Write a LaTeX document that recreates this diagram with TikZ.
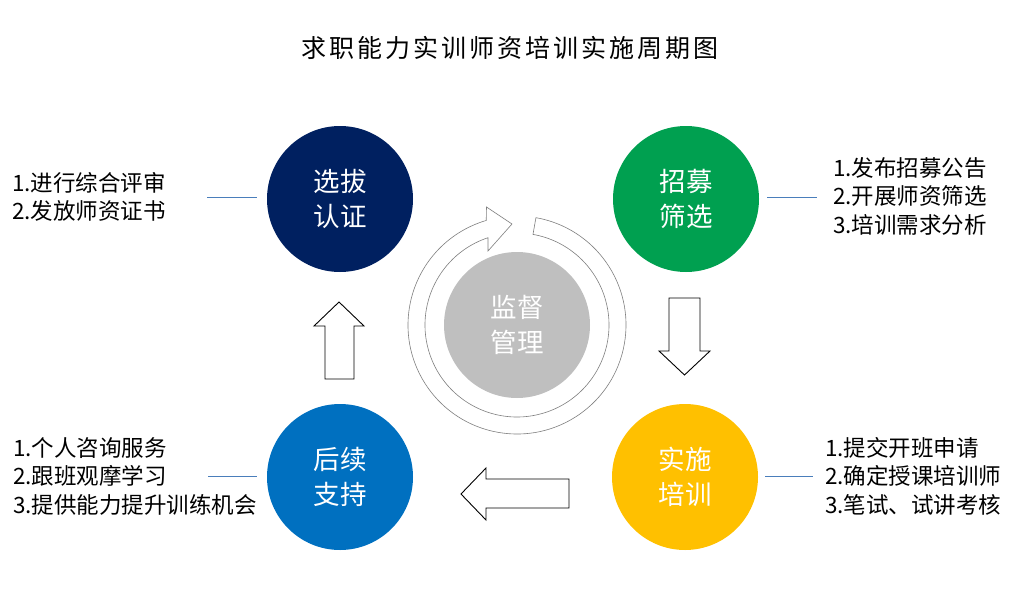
\documentclass[tikz,border=0pt]{standalone}
\usepackage{fontspec}
\newfontfamily\cjk{Noto Sans CJK SC}
\definecolor{navy}{HTML}{002060}
\definecolor{grn}{HTML}{00A050}
\definecolor{yel}{HTML}{FFC000}
\definecolor{blu}{HTML}{0070C0}
\definecolor{gry}{HTML}{BFBFBF}
\definecolor{ringline}{HTML}{7F7F7F}
\definecolor{conn}{HTML}{4A7EBB}
\tikzset{
  stage/.style={circle, minimum size=146pt, inner sep=0pt, text=white, align=center,
    font=\cjk\fontsize{26.5}{35}\selectfont},
  notes/.style={inner sep=0pt, align=left, font=\cjk\fontsize{22.5}{28.5}\selectfont},
  link/.style={draw=conn, line width=0.8pt},
  blockarrow/.style={draw=black, fill=white, line width=0.9pt, line join=miter},
  ring/.style={draw=ringline, fill=white, line width=0.6pt}
}
\begin{document}
\begin{tikzpicture}[x=1pt,y=1pt]
\useasboundingbox (0,0) rectangle (1010,-608);
% title
\node[font=\cjk\fontsize{25}{30}\selectfont\addfontfeature{LetterSpace=12}] (title) at (510,-48) {求职能力实训师资培训实施周期图};
% ring arrow
\draw[ring] ([shift={(517,-325)}]80:109) arc[start angle=80, end angle=-253.6, radius=109]
  -- (486.5,-207) -- (512,-224) -- (488,-251) -- ([shift={(517,-325)}]-251.6:92)
  arc[start angle=-251.6, end angle=80, radius=92] -- cycle;
% stages
\node[stage, fill=gry] (jd) at (517,-325) {监督\\管理};
\node[stage, fill=navy] (xb) at (340,-199) {选拔\\认证};
\node[stage, fill=grn] (zm) at (686,-199) {招募\\筛选};
\node[stage, fill=yel] (ss) at (685,-477) {实施\\培训};
\node[stage, fill=blu] (hx) at (340,-477) {后续\\支持};
% block arrows
\draw[blockarrow] (669,-298) -- (700,-298) -- (700,-351) -- (710,-351) -- (684.5,-375)
  -- (659,-351) -- (669,-351) -- cycle;
\draw[blockarrow] (569,-479) -- (569,-508) -- (486,-508) -- (486,-520) -- (461,-494)
  -- (486,-468) -- (486,-479) -- cycle;
\draw[blockarrow] (325,-379) -- (354,-379) -- (354,-326) -- (364,-326) -- (339,-302)
  -- (314,-326) -- (325,-326) -- cycle;
% notes
\node[notes, anchor=west] (nxb) at (12,-197) {1.进行综合评审\\2.发放师资证书};
\node[notes, anchor=west] (nzm) at (833,-196) {1.发布招募公告\\2.开展师资筛选\\3.培训需求分析};
\node[notes, anchor=west] (nss) at (825,-476) {1.提交开班申请\\2.确定授课培训师\\3.笔试、试讲考核};
\node[notes, anchor=west] (nhx) at (13,-476) {1.个人咨询服务\\2.跟班观摩学习\\3.提供能力提升训练机会};
% connectors
\coordinate (a1) at (207,-197); \coordinate (a2) at (257,-197);
\coordinate (b1) at (767,-197); \coordinate (b2) at (817,-197);
\coordinate (c1) at (765,-476); \coordinate (c2) at (813,-476);
\coordinate (d1) at (208,-476); \coordinate (d2) at (257,-476);
\draw[link] (a1) -- (a2);
\draw[link] (b1) -- (b2);
\draw[link] (c1) -- (c2);
\draw[link] (d1) -- (d2);
\end{tikzpicture}
\end{document}
